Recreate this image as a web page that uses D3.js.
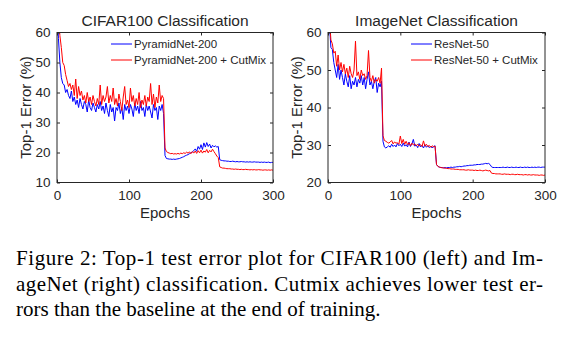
<!DOCTYPE html>
<html>
<head>
<meta charset="utf-8">
<script src="https://d3js.org/d3.v7.min.js"></script>
<style>
  body { margin: 0; background: #fff; }
  svg { display: block; }
</style>
</head>
<body>
<div id="chart"></div>
<script>
// epochs sampled every 2 epochs, 0..300
var epochs = d3.range(0, 301, 2);

var xTicks = [0, 100, 200, 300];
var cifarTicks = [10, 20, 30, 40, 50, 60];
var imagenetTicks = [20, 30, 40, 50, 60];

var cifarBase = [
  70, 58, 50, 45, 43, 42.5, 40, 41, 39, 38,
  40.5, 37, 38.5, 36, 37.5, 35, 38, 36, 34.5, 37,
  36, 33.5, 37.5, 35, 34, 36.5, 35, 33.5, 36, 34.5,
  37, 34, 35.5, 33, 36.5, 34, 32, 36, 33.5, 35,
  30.5, 35, 34, 36.5, 33, 35, 31, 36, 34, 35.5,
  33, 36, 34.5, 32, 36.5, 34, 35.5, 33, 37, 34,
  35, 32, 36, 34, 35.5, 33.5, 31.5, 36, 34, 35,
  31, 35.5, 34, 36, 33, 19, 18, 17.9, 17.8, 17.8,
  17.7, 17.8, 17.7, 17.8, 17.9, 18, 18.2, 18.4, 18.6, 18.9,
  19.1, 19.3, 19.6, 19.9, 20.2, 20.6, 21.2, 20.4, 22, 21.1,
  22.6, 21, 23.2, 21.8, 23.3, 22, 22.8, 21.5, 22.4, 21.9,
  22.2, 21.8, 22, 17.6, 17.4, 17.3, 17.2, 17.2, 17.1, 17.1,
  17, 17, 17.1, 17, 16.9, 17, 16.9, 16.9, 17, 16.9,
  16.9, 16.8, 16.9, 16.8, 16.9, 16.8, 16.8, 16.9, 16.8, 16.8,
  16.8, 16.7, 16.8, 16.7, 16.8, 16.7, 16.7, 16.8, 16.6, 16.7,
  16.7
];

var cifarCutmix = [
  75, 66, 59, 55, 50, 49, 46, 44, 42, 43,
  41, 42.5, 39, 44.5, 38, 42, 39, 40.5, 37.5, 39,
  36.5, 40, 37, 38.5, 36, 39, 37, 35.5, 38, 36,
  42.5, 36, 39, 37, 38.5, 42, 36.5, 39, 37, 41.5,
  36, 38, 35.5, 39.5, 37, 34, 38.5, 42, 36, 37.5,
  35, 41.5, 37, 39, 35.5, 38, 36, 40, 35, 37.5,
  36, 39, 35.5, 38.5, 37, 43, 36, 39.5, 35, 38.5,
  36.5, 42.5, 37, 39, 38, 21.5, 20.3, 20, 19.8, 19.6,
  19.7, 19.5, 19.6, 19.5, 19.7, 19.5, 19.8, 19.6, 19.9, 19.7,
  20.1, 19.8, 20.2, 19.6, 20.3, 19.8, 20.5, 19.7, 20.6, 19.9,
  20.8, 19.8, 20.5, 20.1, 21, 19.9, 20.7, 20.2, 21.1, 20.3,
  19.6, 18.8, 18.3, 15.2, 15, 14.8, 14.8, 14.7, 14.6, 14.6,
  14.6, 14.5, 14.5, 14.4, 14.5, 14.4, 14.4, 14.3, 14.4, 14.3,
  14.3, 14.4, 14.3, 14.3, 14.2, 14.3, 14.2, 14.3, 14.2, 14.2,
  14.3, 14.2, 14.2, 14.1, 14.2, 14.2, 14.1, 14.2, 14.1, 14.2,
  14.1
];

var imagenetBase = [
  75, 62, 56, 55.5, 52, 50, 48, 51.5, 47.5, 50,
  48, 46, 49, 47, 45.5, 48.5, 45, 47, 46, 48,
  45.5, 47.5, 46.5, 48.5, 46, 48, 45, 47.5, 49.5, 46,
  47, 45, 47, 48, 44, 46.5, 45.5, 47, 31, 29.5,
  29.2, 29.5, 29.8, 29.4, 30.2, 29.6, 30, 29.5, 30.4, 29.8,
  30.2, 29.6, 30.5, 29.7, 30.1, 29.5, 30.8, 29.6, 30.3, 31.5,
  29.7, 30, 29.3, 30.4, 29.5, 29.9, 29.2, 30.1, 29.4, 29.8,
  29.3, 29.7, 29.2, 29.6, 29.8, 24.8, 24.3, 24.1, 24, 24,
  23.9, 24, 23.9, 24, 24, 24.1, 24, 24.1, 24.1, 24.2,
  24.2, 24.3, 24.2, 24.3, 24.4, 24.4, 24.5, 24.5, 24.6, 24.6,
  24.6, 24.7, 24.7, 24.8, 24.8, 24.8, 24.9, 24.9, 25, 25.1,
  25, 25.1, 24.8, 24.2, 24, 24, 24, 24, 24, 24,
  24, 24.1, 24, 24, 24.1, 24, 24, 24.1, 24, 24,
  24.1, 24, 24, 24.1, 24, 24, 24.1, 24, 24.1, 24,
  24, 24.1, 24, 24.1, 24, 24.1, 24.1, 24, 24.1, 24.1,
  24.1
];

var imagenetCutmix = [
  78, 64, 58, 57, 54.5, 55, 51, 54, 50, 52,
  49.5, 51.5, 49, 50.5, 48, 51, 49, 48, 50, 57.7,
  48.5, 49.5, 47.5, 50, 48.5, 49, 47.5, 48.5, 55.2, 48,
  47, 48.5, 46.5, 47.5, 47, 48, 46.5, 50.5, 32.5, 31.2,
  31, 30.7, 30.5, 30.8, 31.2, 30.3, 30.8, 30.5, 30.6, 30.2,
  32.4, 30.4, 31.5, 30.2, 31, 30.1, 30.6, 29.8, 30.5, 30,
  30.3, 29.8, 30.2, 29.7, 30.1, 29.6, 31.1, 29.7, 30.2, 29.6,
  29.9, 29.4, 29.8, 29.5, 29.7, 24.8, 24.3, 24.1, 24, 23.9,
  23.9, 23.8, 23.8, 23.7, 23.7, 23.6, 23.6, 23.6, 23.5, 23.5,
  23.5, 23.4, 23.4, 23.4, 23.4, 23.3, 23.3, 23.4, 23.3, 23.3,
  23.3, 23.2, 23.3, 23.2, 23.2, 23.3, 23.2, 23.1, 23.2, 23.3,
  23.2, 23.1, 23.2, 22.5, 22.4, 22.4, 22.3, 22.3, 22.3, 22.3,
  22.2, 22.2, 22.3, 22.2, 22.2, 22.2, 22.1, 22.2, 22.2, 22.1,
  22.1, 22.2, 22.1, 22.1, 22.1, 22.0, 22.1, 22.1, 22.0, 22.1,
  22.0, 22.0, 22.1, 22.0, 22.0, 22.0, 21.9, 22.0, 22.0, 21.9,
  22.0
];

var captionLines = [
  "Figure 2: Top-1 test error plot for CIFAR100 (left) and Im-",
  "ageNet (right) classification. Cutmix achieves lower test er-",
  "rors than the baseline at the end of training."
];

var W = 567, H = 345;
var axisColor = "#262626";
var font = "'Liberation Sans', Arial, sans-serif";

var svg = d3.select("#chart").append("svg")
    .attr("width", W)
    .attr("height", H)
    .style("background-color", "white");

function drawPanel(p) {
    var x = d3.scaleLinear().domain([0, 300]).range([p.left, p.right]);
    var y = d3.scaleLinear().domain(p.yDomain).range([p.bottom, p.top]);

    var g = svg.append("g").attr("class", p.id);

    g.append("clipPath").attr("id", "clip-" + p.id)
      .append("rect")
        .attr("x", p.left).attr("y", p.top)
        .attr("width", p.right - p.left).attr("height", p.bottom - p.top);

    var line = d3.line()
        .x(function(d, i) { return x(epochs[i]); })
        .y(function(d) { return y(d); });

    var series = [
        {name: p.names[0], values: p.base, color: "#0000ff"},
        {name: p.names[1], values: p.cutmix, color: "#ff0000"}
    ];

    g.append("g").attr("clip-path", "url(#clip-" + p.id + ")")
      .selectAll("path")
      .data(series)
      .enter()
      .append("path")
        .attr("d", function(d) { return line(d.values); })
        .attr("fill", "none")
        .attr("stroke", function(d) { return d.color; })
        .attr("stroke-width", 1)
        .attr("stroke-linejoin", "round");

    // axes, ticks pointing inward on all four sides
    var styleAxis = function(sel) {
        sel.select(".domain").remove();
        sel.selectAll("line").attr("stroke", axisColor);
        sel.selectAll("text")
            .attr("fill", axisColor)
            .style("font-family", font)
            .style("font-size", "13.5px");
    };

    g.append("g")
        .attr("transform", "translate(0," + p.bottom + ")")
        .call(d3.axisBottom(x).tickValues(xTicks).tickSize(-3).tickPadding(8))
        .call(styleAxis);
    g.append("g")
        .attr("transform", "translate(0," + p.top + ")")
        .call(d3.axisTop(x).tickValues(xTicks).tickSize(-3).tickFormat(""))
        .call(styleAxis);
    g.append("g")
        .attr("transform", "translate(" + p.left + ",0)")
        .call(d3.axisLeft(y).tickValues(p.yTicks).tickSize(-3).tickPadding(6.5))
        .call(styleAxis);
    g.append("g")
        .attr("transform", "translate(" + p.right + ",0)")
        .call(d3.axisRight(y).tickValues(p.yTicks).tickSize(-3).tickFormat(""))
        .call(styleAxis);

    g.append("rect")
        .attr("x", p.left).attr("y", p.top)
        .attr("width", p.right - p.left).attr("height", p.bottom - p.top)
        .attr("fill", "none")
        .attr("stroke", axisColor)
        .attr("stroke-width", 1);

    var cx = (p.left + p.right) / 2;

    g.append("text")
        .attr("x", cx).attr("y", 26)
        .attr("text-anchor", "middle")
        .attr("fill", axisColor)
        .style("font-family", font)
        .style("font-size", "15.5px")
        .text(p.title);

    g.append("text")
        .attr("x", cx).attr("y", 218)
        .attr("text-anchor", "middle")
        .attr("fill", axisColor)
        .style("font-family", font)
        .style("font-size", "15px")
        .text("Epochs");

    g.append("text")
        .attr("transform", "translate(" + p.ylabelX + "," + ((p.top + p.bottom) / 2) + ") rotate(-90)")
        .attr("text-anchor", "middle")
        .attr("fill", axisColor)
        .style("font-family", font)
        .style("font-size", "15px")
        .text("Top-1 Error (%)");

    // legend
    var leg = g.append("g").selectAll("g")
        .data(series)
        .enter()
        .append("g")
        .attr("transform", function(d, i) { return "translate(" + p.legendX + "," + (44 + i * 16) + ")"; });

    leg.append("line")
        .attr("x1", 0).attr("x2", 21)
        .attr("y1", 0).attr("y2", 0)
        .attr("stroke", function(d) { return d.color; })
        .attr("stroke-width", 1);

    leg.append("text")
        .attr("x", 23).attr("y", 4)
        .attr("fill", axisColor)
        .style("font-family", font)
        .style("font-size", "11.5px")
        .text(function(d) { return d.name; });
}

drawPanel({
    id: "cifar", title: "CIFAR100 Classification",
    left: 57, right: 273, top: 32.5, bottom: 182.5,
    yDomain: [10, 60], yTicks: cifarTicks,
    base: cifarBase, cutmix: cifarCutmix,
    names: ["PyramidNet-200", "PyramidNet-200 + CutMix"],
    ylabelX: 31, legendX: 111
});

drawPanel({
    id: "imagenet", title: "ImageNet Classification",
    left: 328, right: 545, top: 32.5, bottom: 182.5,
    yDomain: [20, 60], yTicks: imagenetTicks,
    base: imagenetBase, cutmix: imagenetCutmix,
    names: ["ResNet-50", "ResNet-50 + CutMix"],
    ylabelX: 302, legendX: 411
});

// caption, justified like the paper
var capWidths = [527, 527, null];
svg.append("g").attr("class", "caption")
    .selectAll("text")
    .data(captionLines)
    .enter()
    .append("text")
    .attr("x", 16)
    .attr("y", function(d, i) { return 265 + i * 25.5; })
    .attr("fill", "#000")
    .style("font-family", "'Liberation Serif', 'Times New Roman', serif")
    .style("font-size", "21px")
    .each(function(d, i) {
        if (capWidths[i]) {
            d3.select(this).attr("textLength", capWidths[i]).attr("lengthAdjust", "spacing");
        }
    })
    .text(function(d) { return d; });
</script>
</body>
</html>
